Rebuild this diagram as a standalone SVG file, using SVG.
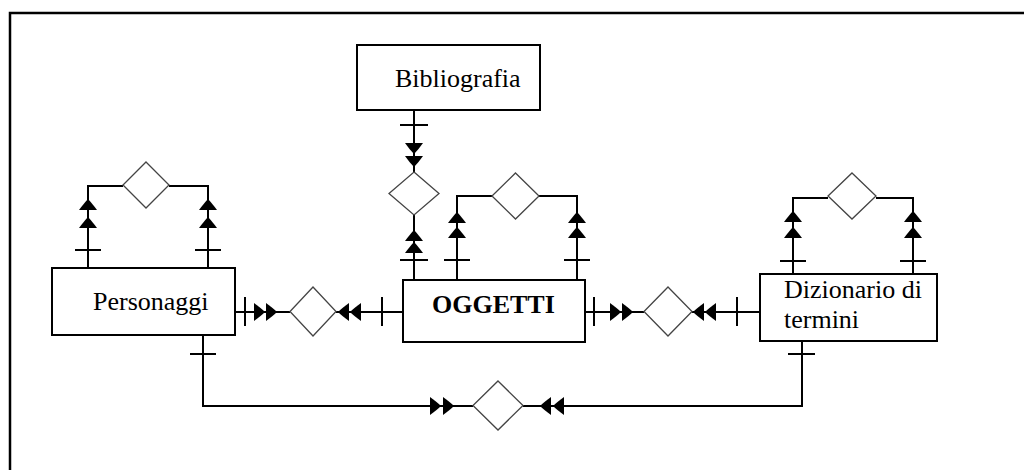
<svg xmlns="http://www.w3.org/2000/svg" xmlns:xlink="http://www.w3.org/1999/xlink" width="1024" height="470" viewBox="0 0 1024 470">
<style>
.box{fill:#fff;stroke:#000;stroke-width:2}
.ln{fill:none;stroke:#000;stroke-width:2}
.tk{stroke:#000;stroke-width:2}
.dm{fill:#fff;stroke:#444;stroke-width:1.3}
.t{font-family:"Liberation Serif","Times New Roman",serif;font-size:26px;fill:#000}
.b{font-weight:bold}
</style>
<defs>
<path id="ar" d="M0,0 C-3,-3 -7,-6 -11,-9 L-11,9 C-7,6 -3,3 0,0 Z" fill="#000"/>
</defs>
<rect width="1024" height="470" fill="#fff"/>
<path d="M10,470 V13 H1024" fill="none" stroke="#000" stroke-width="2.5"/>

<g id="connectors">
  <!-- Personaggi self relation -->
  <path class="ln" d="M88,268 V186 H123 M169,186 H208 V268"/>
  <polygon class="dm" points="146,162 169,185 146,208 123,185"/>
  <line class="tk" x1="75" y1="250" x2="101" y2="250"/>
  <line class="tk" x1="195" y1="250" x2="221" y2="250"/>
  <use xlink:href="#ar" transform="translate(88,199) rotate(-90)"/>
  <use xlink:href="#ar" transform="translate(88,217) rotate(-90)"/>
  <use xlink:href="#ar" transform="translate(208,199) rotate(-90)"/>
  <use xlink:href="#ar" transform="translate(208,217) rotate(-90)"/>

  <!-- Bibliografia - OGGETTI -->
  <path class="ln" d="M414,110 V172 M414,215 V280"/>
  <polygon class="dm" points="414,172 439,193.5 414,215 389,193.5"/>
  <line class="tk" x1="400" y1="125" x2="428" y2="125"/>
  <line class="tk" x1="400" y1="260" x2="428" y2="260"/>
  <use xlink:href="#ar" transform="translate(414,154) rotate(90)"/>
  <use xlink:href="#ar" transform="translate(414,167) rotate(90)"/>
  <use xlink:href="#ar" transform="translate(414,230) rotate(-90)"/>
  <use xlink:href="#ar" transform="translate(414,242) rotate(-90)"/>

  <!-- OGGETTI self relation -->
  <path class="ln" d="M457,280 V196 H492 M539,196 H577 V280"/>
  <polygon class="dm" points="515.5,173 539,196 515.5,219 492,196"/>
  <line class="tk" x1="444" y1="260" x2="470" y2="260"/>
  <line class="tk" x1="564" y1="260" x2="590" y2="260"/>
  <use xlink:href="#ar" transform="translate(457,212) rotate(-90)"/>
  <use xlink:href="#ar" transform="translate(457,227) rotate(-90)"/>
  <use xlink:href="#ar" transform="translate(577,212) rotate(-90)"/>
  <use xlink:href="#ar" transform="translate(577,227) rotate(-90)"/>

  <!-- Dizionario self relation -->
  <path class="ln" d="M793,274 V198 H828 M876,198 H913 V274"/>
  <polygon class="dm" points="852,173 876,196 852,219 828,196"/>
  <line class="tk" x1="780" y1="261" x2="806" y2="261"/>
  <line class="tk" x1="900" y1="261" x2="926" y2="261"/>
  <use xlink:href="#ar" transform="translate(793,211) rotate(-90)"/>
  <use xlink:href="#ar" transform="translate(793,227) rotate(-90)"/>
  <use xlink:href="#ar" transform="translate(913,211) rotate(-90)"/>
  <use xlink:href="#ar" transform="translate(913,227) rotate(-90)"/>

  <!-- Personaggi - OGGETTI -->
  <path class="ln" d="M235,312 H290 M336,312 H403"/>
  <polygon class="dm" points="313,287 336,311.5 313,336 290,311.5"/>
  <line class="tk" x1="245" y1="297" x2="245" y2="326"/>
  <line class="tk" x1="382" y1="297" x2="382" y2="326"/>
  <use xlink:href="#ar" transform="translate(265,312)"/>
  <use xlink:href="#ar" transform="translate(277,312)"/>
  <use xlink:href="#ar" transform="translate(338,312) rotate(180)"/>
  <use xlink:href="#ar" transform="translate(350,312) rotate(180)"/>

  <!-- OGGETTI - Dizionario -->
  <path class="ln" d="M585,312 H644 M692,312 H760"/>
  <polygon class="dm" points="668,287 692,311.5 668,336 644,311.5"/>
  <line class="tk" x1="594" y1="297" x2="594" y2="326"/>
  <line class="tk" x1="737" y1="297" x2="737" y2="326"/>
  <use xlink:href="#ar" transform="translate(621,312)"/>
  <use xlink:href="#ar" transform="translate(633,312)"/>
  <use xlink:href="#ar" transform="translate(693,312) rotate(180)"/>
  <use xlink:href="#ar" transform="translate(705,312) rotate(180)"/>

  <!-- Personaggi - Dizionario (bottom) -->
  <path class="ln" d="M203,335 V406 H473 M523,406 H802 V341"/>
  <polygon class="dm" points="498,381 523,405.5 498,430 473,405.5"/>
  <line class="tk" x1="190" y1="354" x2="216" y2="354"/>
  <line class="tk" x1="788" y1="354" x2="815" y2="354"/>
  <use xlink:href="#ar" transform="translate(441,406)"/>
  <use xlink:href="#ar" transform="translate(454,406)"/>
  <use xlink:href="#ar" transform="translate(540,406) rotate(180)"/>
  <use xlink:href="#ar" transform="translate(553,406) rotate(180)"/>
</g>

<g id="personaggi">
  <rect class="box" x="52" y="268" width="183" height="67"/>
  <text class="t" x="93" y="310">Personaggi</text>
</g>
<g id="bibliografia">
  <rect class="box" x="357" y="45" width="183" height="65"/>
  <text class="t" x="395" y="87">Bibliografia</text>
</g>
<g id="oggetti">
  <rect class="box" x="403" y="280" width="182" height="62"/>
  <text class="t b" x="432" y="313">OGGETTI</text>
</g>
<g id="dizionario">
  <rect class="box" x="760" y="274" width="177" height="67"/>
  <text class="t" x="784" y="298">Dizionario di</text>
  <text class="t" x="784" y="328">termini</text>
</g>
</svg>
